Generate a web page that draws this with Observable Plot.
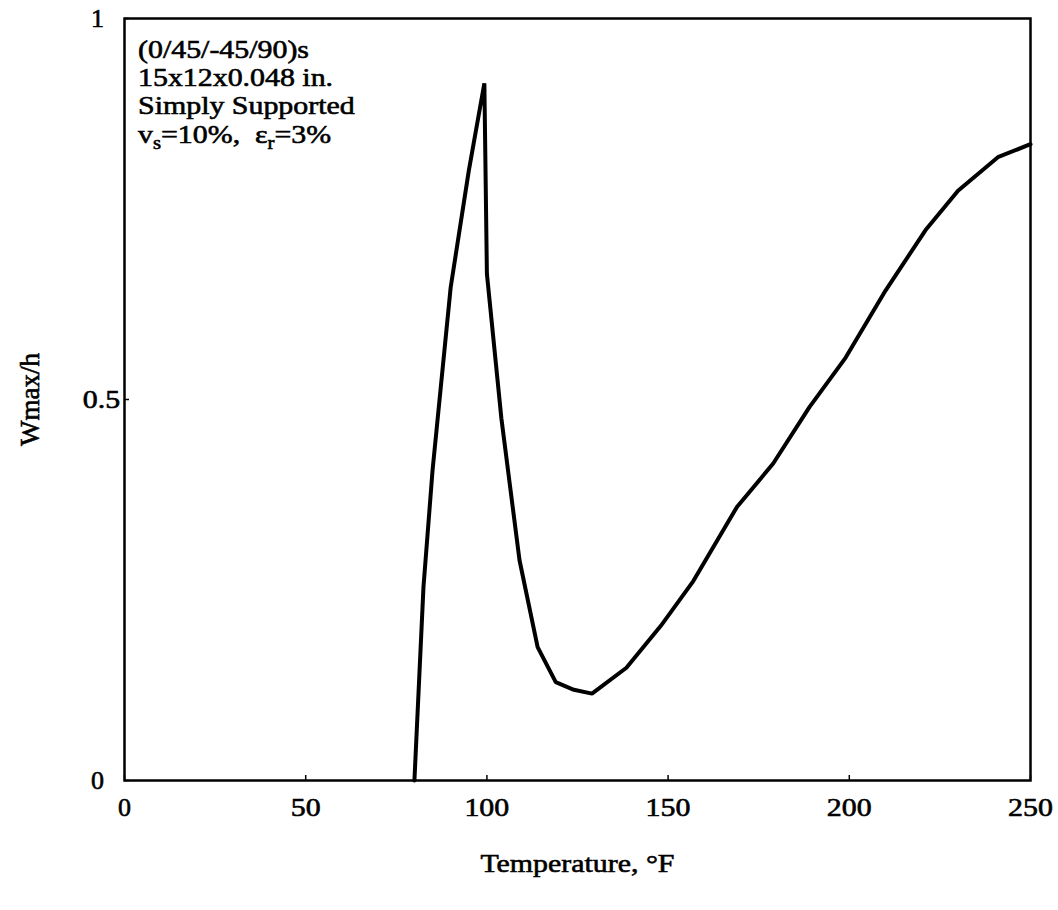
<!DOCTYPE html>
<html><head><meta charset="utf-8">
<script src="https://cdn.jsdelivr.net/npm/d3@7"></script>
<script src="https://cdn.jsdelivr.net/npm/@observablehq/plot@0.6"></script>
<style>body{margin:0;background:#fff}</style>
</head><body><div id="chart"></div>
<script>
// Temperature (°F) and Wmax/h
const temperature = [80, 82.5, 85, 90, 95, 99.3, 100, 104, 109, 114, 119, 124, 129, 138.5, 148, 157, 169, 179, 189, 199, 210, 221, 230, 241, 250];
const wmaxH       = [0, 0.254, 0.407, 0.647, 0.80, 0.915, 0.665, 0.475, 0.289, 0.175, 0.129, 0.119, 0.114, 0.148, 0.203, 0.262, 0.359, 0.416, 0.49, 0.555, 0.643, 0.722, 0.774, 0.818, 0.835];

const xTicks = [0, 50, 100, 150, 200, 250];
const yTicks = [0, 0.5, 1];
const yTickLabels = ["0", "0.5", "1"];
const xLabel = "Temperature, °F";
const yLabel = "Wmax/h";
const line4Parts = [{t: "v"}, {t: "s", sub: true}, {t: "=10%,\u00a0\u00a0ε"}, {t: "r", sub: true}, {t: "=3%"}];
const annotationLines = ["(0/45/-45/90)s", "15x12x0.048 in.", "Simply Supported", line4Parts.map(p => p.t).join("")];

const data = temperature.map((t, i) => ({t, w: wmaxH[i]}));
const font = "'Liberation Serif', 'Times New Roman', serif";

const plot = Plot.plot({
  width: 1058, height: 910,
  marginLeft: 124, marginRight: 28, marginTop: 18, marginBottom: 130,
  style: {fontFamily: font, fontSize: "26px", color: "#000", background: "#fff"},
  x: {domain: [0, 250]},
  y: {domain: [0, 1]},
  marks: [
    Plot.axisX(xTicks, {tickSize: -5, tickPadding: 22, label: null, fontSize: 26, strokeWidth: 1.5}),
    Plot.axisY(yTicks, {tickSize: -5, tickPadding: 32, label: null, fontSize: 26, strokeWidth: 1.5,
      textAnchor: "middle", tickFormat: d => yTickLabels[yTicks.indexOf(d)]}),
    Plot.line(data, {x: "t", y: "w", stroke: "#000", strokeWidth: 4, strokeLinejoin: "miter"}),
    Plot.frame({stroke: "#000", strokeWidth: 2.5}),
    Plot.text([annotationLines.join("\n")], {frameAnchor: "top-left", dx: 16, dy: 19, textAnchor: "start",
      lineAnchor: "top", lineHeight: 1.09, fontSize: 26, fill: "#000"}),
    Plot.text([xLabel], {frameAnchor: "bottom", dy: 91, lineAnchor: "bottom", fontSize: 26, fill: "#000"}),
    Plot.text([yLabel], {frameAnchor: "left", dx: -94, rotate: -90, textAnchor: "middle", lineAnchor: "middle",
      fontSize: 27, fill: "#000"})
  ]
});

document.getElementById("chart").append(plot);

// subscripts in the last annotation line
plot.querySelectorAll("tspan").forEach(ts => {
  if (ts.textContent === annotationLines[3]) {
    ts.textContent = "";
    let shifted = false;
    line4Parts.forEach(p => {
      const s = document.createElementNS("http://www.w3.org/2000/svg", "tspan");
      s.textContent = p.t;
      if (p.sub) { s.setAttribute("dy", "6"); s.setAttribute("font-size", "18"); shifted = true; }
      else if (shifted) { s.setAttribute("dy", "-6"); shifted = false; }
      ts.appendChild(s);
    });
  }
});

// the scanned reference text is horizontally wider and heavier than plain Times
const svgRect = plot.getBoundingClientRect();
plot.querySelectorAll("text").forEach(t => {
  t.style.stroke = "#000";
  t.style.strokeWidth = "0.6px";
  if ((t.getAttribute("transform") || "").includes("rotate")) return;
  const r = t.getBoundingClientRect();
  if (r.height > r.width * 2) return;
  const anchor = getComputedStyle(t).textAnchor;
  let ax = anchor === "end" ? r.right : anchor === "middle" ? (r.left + r.right) / 2 : r.left;
  ax -= svgRect.left;
  const g = document.createElementNS("http://www.w3.org/2000/svg", "g");
  g.setAttribute("transform", `translate(${ax},0) scale(1.15,1) translate(${-ax},0)`);
  t.parentNode.insertBefore(g, t);
  g.appendChild(t);
});
</script>
</body></html>
